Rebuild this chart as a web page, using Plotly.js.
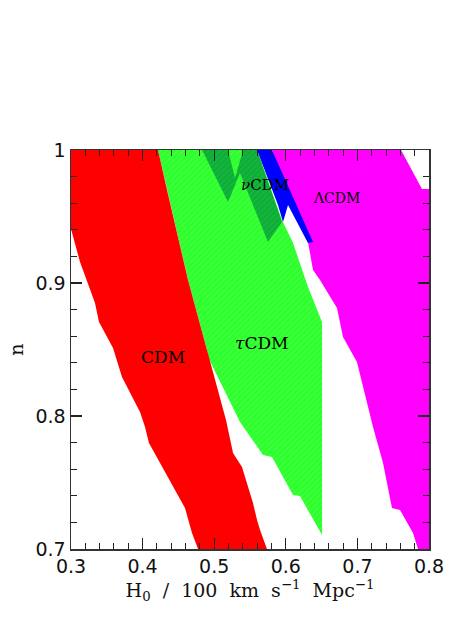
<!DOCTYPE html>
<html>
<head>
<meta charset="utf-8">
<script src="https://cdn.plot.ly/plotly-3.0.1.min.js"></script>
<style>html,body{margin:0;padding:0;background:#fff;}#chart{width:468px;height:623px;}</style>
</head>
<body>
<div id="chart"></div>
<script>
// CDM (red) region boundary
var cdmH0 = [0.3, 0.3, 0.3126, 0.3168, 0.3293, 0.3335, 0.3391, 0.3587, 0.3712, 0.3964, 0.4034, 0.4089, 0.4592, 0.469, 0.4774,
             0.5737, 0.564, 0.5598, 0.5542, 0.5388, 0.5263, 0.5165, 0.4899, 0.4634, 0.4341, 0.4215];
var cdmN  = [1, 0.9406, 0.9158, 0.9098, 0.8925, 0.885, 0.8707, 0.8511, 0.8293, 0.803, 0.7917, 0.7797, 0.7308, 0.712, 0.7,
             0.7, 0.7143, 0.7218, 0.7346, 0.7617, 0.7722, 0.797, 0.8496, 0.9023, 0.9699, 1];
// tauCDM (light green) region boundary
var tauH0 = [0.4215, 0.5598, 0.5947, 0.6101, 0.631, 0.6436, 0.6506, 0.6506, 0.6198, 0.6101, 0.5807, 0.5682, 0.536, 0.4913, 0.4899, 0.4634, 0.4341, 0.4215];
var tauN  = [1, 1, 0.9474, 0.9301, 0.897, 0.8797, 0.8707, 0.7105, 0.7398, 0.7406, 0.7692, 0.7707, 0.7955, 0.8444, 0.8496, 0.9023, 0.9699, 1];
// nuCDM (dark green) region boundary
var nuH0 = [0.483, 0.5193, 0.5291, 0.5402, 0.5598, 0.5947, 0.5751, 0.536, 0.5193, 0.483];
var nuN  = [1, 1, 0.9789, 1, 1, 0.9459, 0.9308, 0.9827, 0.9609, 1];
// blue band
var blueH0 = [0.5598, 0.5807, 0.638, 0.631, 0.6031, 0.5961, 0.5891];
var blueN  = [1, 1, 0.9308, 0.9301, 0.9586, 0.9459, 0.9586];
// LambdaCDM (magenta) region boundary
var lcdmH0 = [0.5807, 0.7609, 0.7902, 0.8, 0.8, 0.7846, 0.7777, 0.7595, 0.7483, 0.7358, 0.7218, 0.6994, 0.6799, 0.6715, 0.6478, 0.638, 0.631, 0.5807];
var lcdmN  = [1, 1, 0.9707, 0.9707, 0.7, 0.7, 0.712, 0.7293, 0.7308, 0.7647, 0.7917, 0.8406, 0.8594, 0.8812, 0.9023, 0.9098, 0.9308, 1];

var xTickVals = [0.3, 0.4, 0.5, 0.6, 0.7, 0.8];
var xTickText = ['0.3', '0.4', '0.5', '0.6', '0.7', '0.8'];
var yTickVals = [0.7, 0.8, 0.9, 1];
var yTickText = ['0.7', '0.8', '0.9', '1'];

var labelText = ['CDM', '<i>τ</i>CDM', '<i>ν</i>CDM', 'ΛCDM'];
var labelH0   = [0.4285, 0.5667, 0.5705, 0.671];
var labelN    = [0.844, 0.855, 0.974, 0.964];
var labelSize = [17, 17, 15, 14];

function region(x, y, color, extra) {
  var t = {x: x, y: y, type: 'scatter', mode: 'lines', fill: 'toself', fillcolor: color,
           line: {width: 0, color: color}, hoverinfo: 'skip', showlegend: false};
  if (extra) for (var k in extra) t[k] = extra[k];
  return t;
}

var data = [
  region(tauH0, tauN, '#2cff2c', {fillpattern: {shape: '/', bgcolor: '#2cff2c', fgcolor: '#7dff7d', size: 4, solidity: 0.12}}),
  region(cdmH0, cdmN, '#ff0000'),
  region(nuH0, nuN, '#12b43c', {fillpattern: {shape: '/', bgcolor: '#12b43c', fgcolor: '#0a9a30', size: 4, solidity: 0.2}}),
  region(lcdmH0, lcdmN, '#ff00ff'),
  region(blueH0, blueN, '#0000ff')
];

var annotations = labelText.map(function (t, i) {
  return {x: labelH0[i], y: labelN[i], xref: 'x', yref: 'y', text: t, showarrow: false,
          font: {family: 'DejaVu Serif, serif', size: labelSize[i], color: '#000'}};
});

var axisCommon = {
  showgrid: false, zeroline: false, showline: true, linecolor: '#333', linewidth: 1.5,
  mirror: 'allticks', ticks: 'inside', ticklen: 11, tickwidth: 1.2, tickcolor: '#222',
  tickfont: {family: 'DejaVu Sans, sans-serif', size: 19, color: '#111'},
  minor: {dtick: 0.02, ticks: 'inside', ticklen: 6, tickwidth: 1, tickcolor: '#222'}
};

var layout = {
  width: 468, height: 623,
  margin: {l: 71, r: 39, t: 150, b: 74},
  paper_bgcolor: '#fff', plot_bgcolor: '#fff',
  xaxis: Object.assign({}, axisCommon, {
    range: [0.3, 0.8], tickmode: 'array', tickvals: xTickVals, ticktext: xTickText,
    title: {text: 'H<sub>0</sub>&nbsp; /&nbsp; 100&nbsp; km&nbsp; s<sup>−1</sup>&nbsp; Mpc<sup>−1</sup>', standoff: 4,
            font: {family: 'DejaVu Serif, serif', size: 19, color: '#111'}}
  }),
  yaxis: Object.assign({}, axisCommon, {
    range: [0.7, 1], tickmode: 'array', tickvals: yTickVals, ticktext: yTickText,
    title: {text: 'n', standoff: 7, font: {family: 'DejaVu Serif, serif', size: 19, color: '#111'}}
  }),
  annotations: annotations
};

Plotly.newPlot('chart', data, layout, {displayModeBar: false, staticPlot: true});
</script>
</body>
</html>
